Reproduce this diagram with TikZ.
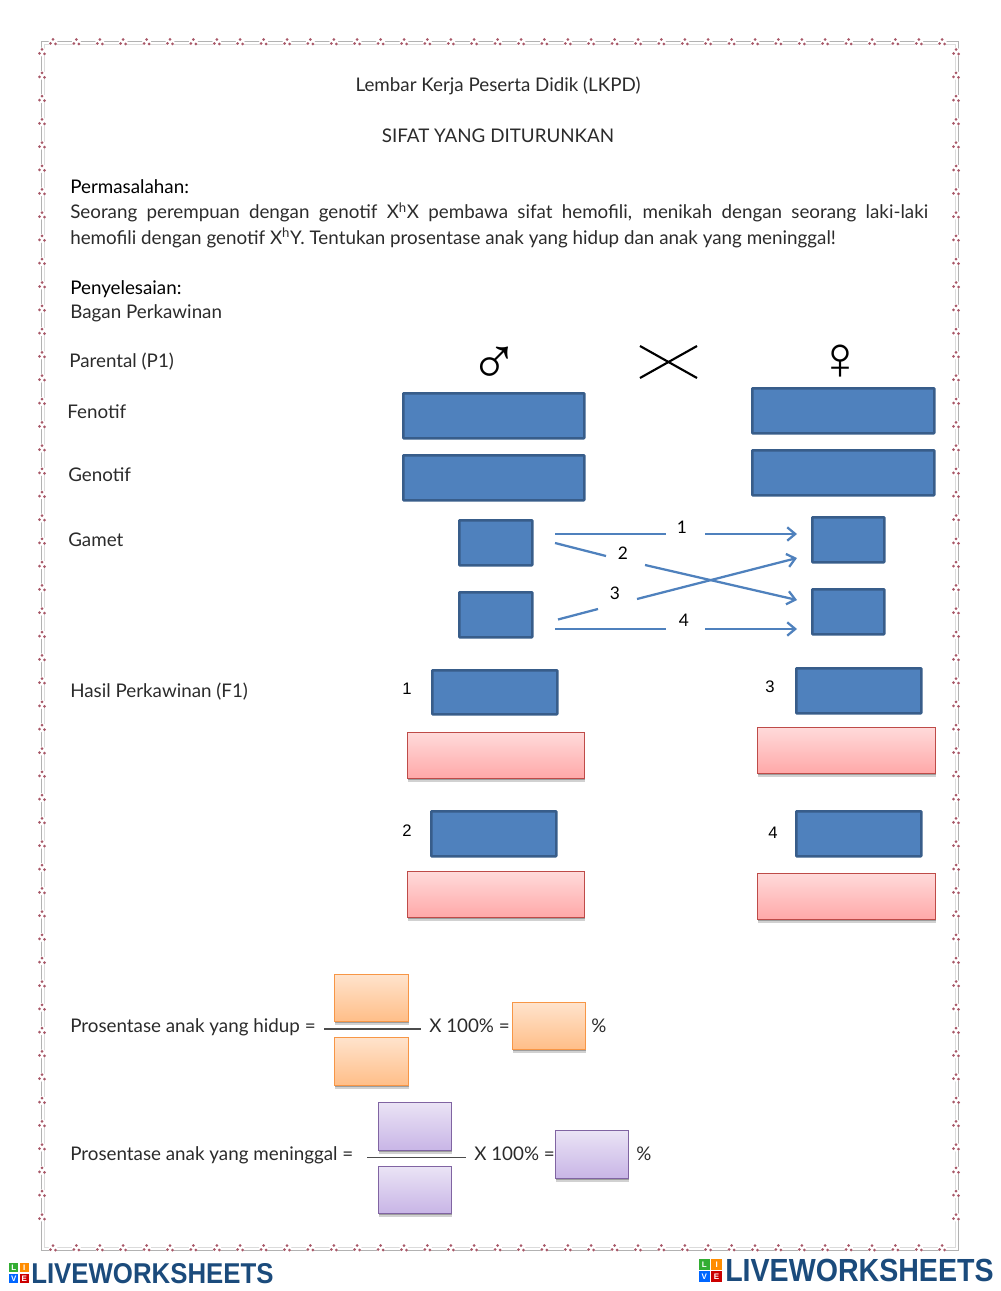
\documentclass[tikz,border=0pt]{standalone}
\usepackage{fontspec}
\usepackage{graphicx}
\setmainfont{Lato}
\newfontfamily\logofont{Liberation Sans}
\usetikzlibrary{arrows.meta,shadows}
\definecolor{boxblue}{HTML}{4F81BD}
\definecolor{boxedge}{HTML}{385D8A}
\definecolor{inktext}{HTML}{2B2B2B}
\definecolor{logoblue}{HTML}{1B4B7C}
\definecolor{pinkedge}{HTML}{BE4B48}
\definecolor{pinktop}{HTML}{FFDADA}
\definecolor{pinkbot}{HTML}{FFA8A8}
\definecolor{orangeedge}{HTML}{F79646}
\definecolor{orangetop}{HTML}{FFE3CC}
\definecolor{orangebot}{HTML}{FFBE88}
\definecolor{purpleedge}{HTML}{8064A2}
\definecolor{purpletop}{HTML}{EAE3F5}
\definecolor{purplebot}{HTML}{C8B5E6}
\definecolor{flowerred}{HTML}{A85868}
\tikzset{
  x=0.75pt,y=-0.75pt,
  txt/.style={anchor=base west,inner sep=0pt,text=inktext,font=\fontsize{14.1}{16}\selectfont},
  ctxt/.style={txt,anchor=base},
  num/.style={anchor=center,inner sep=0pt,text=black,font=\logofont\fontsize{12.5}{14}\selectfont},
  bluebox/.style={draw=boxedge,fill=boxblue,line width=1.9pt,inner sep=0pt,anchor=north west,rounded corners=0.5pt},
  softbox/.style={inner sep=0pt,anchor=north west,line width=0.9pt,
    drop shadow={shadow xshift=0pt,shadow yshift=-1.2pt,opacity=0.25,fill=black},
    drop shadow={shadow xshift=0pt,shadow yshift=-2.4pt,opacity=0.18,fill=black}},
  pinkbox/.style={softbox,draw=pinkedge,top color=pinktop,bottom color=pinkbot},
  orangebox/.style={softbox,draw=orangeedge,top color=orangetop,bottom color=orangebot},
  purplebox/.style={softbox,draw=purpleedge,top color=purpletop,bottom color=purplebot},
  flow/.style={draw=boxblue,line width=1.7pt},
  flowtip/.style={flow,-{Straight Barb[length=6pt,width=10pt,line width=1.7pt]}},
  crossline/.style={draw=black,line width=1.6pt},
  fracline/.style={draw=black!70,line width=0.8pt},
  logotxt/.style={anchor=base west,inner sep=0pt,text=logoblue},
  logoletter/.style={anchor=center,inner sep=0pt,text=white,font=\logofont\bfseries\fontsize{6}{6}\selectfont},
}
\newcommand{\flowerat}[2]{%
  \fill[white] (#1,#2) circle[radius=4.5];
  \fill[flowerred] (#1-2.5,#2+1.5) circle[radius=1.5] (#1+2.5,#2+2) circle[radius=1.5] (#1,#2-2.5) circle[radius=1.5];}
\newcommand{\logomark}[3]{% x y size
  \fill[green!60!black!80] (#1,#2) rectangle ++(#3*0.47,#3*0.47);
  \fill[orange!90!yellow] (#1+#3*0.53,#2) rectangle ++(#3*0.47,#3*0.47);
  \fill[blue!60!cyan] (#1,#2+#3*0.53) rectangle ++(#3*0.47,#3*0.47);
  \fill[red!80!black] (#1+#3*0.53,#2+#3*0.53) rectangle ++(#3*0.47,#3*0.47);}
\newcommand{\blockat}[6]{% name style x1 y1 x2 y2
  \node[#2,minimum width=\the\dimexpr(#5pt-#3pt-2pt)*3/4\relax,minimum height=\the\dimexpr(#6pt-#4pt-2pt)*3/4\relax] (#1) at (#3,#4) {};}
\newcommand{\softat}[6]{% name style x1 y1 x2 y2
  \node[#2,minimum width=\the\dimexpr(#5pt-#3pt)*3/4\relax,minimum height=\the\dimexpr(#6pt-#4pt)*3/4\relax] (#1) at (#3,#4) {};}
\begin{document}
\begin{tikzpicture}
\useasboundingbox (0,0) rectangle (1000,1291);
% border
\draw[black!30,line width=0.7pt] (41,41) rectangle (958,1250);
\draw[black!14,line width=0.5pt] (44,44) rectangle (955,1247);
\foreach \k in {0,...,38}{\flowerat{53+23.4*\k}{42}\flowerat{53+23.4*\k}{1248}}
\foreach \k in {0,...,50}{\flowerat{42}{52+23.3*\k}\flowerat{956}{52+23.3*\k}}
% text
\node[ctxt] (title) at (498,91.5) {Lembar Kerja Peserta Didik (LKPD)};
\node[ctxt] (subtitle) at (498,142.5) {SIFAT YANG DITURUNKAN};
\node[txt,text=black] (masalah) at (70,194) {Permasalahan:};
\node[txt] (line1) at (70,219) {\makebox[643.5pt][s]{Seorang perempuan dengan genotif X\textsuperscript{h}X pembawa sifat hemofili, menikah dengan seorang laki-laki}};
\node[txt] (line2) at (70,244) {hemofili dengan genotif X\textsuperscript{h}Y. Tentukan prosentase anak yang hidup dan anak yang meninggal!};
\node[txt,text=black] (selesai) at (70,294) {Penyelesaian:};
\node[txt] (bagan) at (70,318) {Bagan Perkawinan};
\node[txt] (parental) at (69,367) {Parental (P1)};
\node[txt] (fenotif) at (67,418) {Fenotif};
\node[txt] (genotif) at (68,481) {Genotif};
\node[txt] (gamet) at (68,546) {Gamet};
\node[txt] (hasil) at (70,697) {Hasil Perkawinan (F1)};
% symbols
\node[inner sep=0pt,font=\logofont\fontsize{50}{52}\selectfont] (male) at (494,366) {♂};
\node[inner sep=0pt,font=\logofont\bfseries\fontsize{46}{50}\selectfont] (female) at (840,362) {♀};
\coordinate (xa) at (640,346); \coordinate (xb) at (697,378);
\coordinate (xc) at (640,378); \coordinate (xd) at (697,346);
\draw[crossline] (xa) -- (xb);
\draw[crossline] (xc) -- (xd);
% blue boxes
\blockat{mf}{bluebox}{402}{392}{585}{439}
\blockat{mg}{bluebox}{402}{454}{585}{501}
\blockat{ff}{bluebox}{751}{387}{935}{434}
\blockat{fg}{bluebox}{751}{449}{935}{496}
\blockat{ga}{bluebox}{458}{519}{533}{566}
\blockat{gb}{bluebox}{458}{591}{533}{638}
\blockat{gc}{bluebox}{811}{516}{885}{563}
\blockat{gd}{bluebox}{811}{588}{885}{635}
\blockat{fa}{bluebox}{431}{669}{558}{715}
\blockat{fc}{bluebox}{795}{667}{922}{714}
\blockat{fb}{bluebox}{430}{810}{557}{857}
\blockat{fd}{bluebox}{795}{810}{922}{857}
% pink
\softat{pa}{pinkbox}{407}{732}{584}{778}
\softat{pc}{pinkbox}{757}{727}{935}{773}
\softat{pb}{pinkbox}{407}{871}{584}{917}
\softat{pd}{pinkbox}{757}{873}{935}{919}
% numbers
\node[num] (na) at (407,689) {1};
\node[num] (nc) at (770,687) {3};
\node[num] (nb) at (407,831) {2};
\node[num] (nd) at (773,833) {4};
% arrows
\node[num,font=\fontsize{13}{14}\selectfont] (l1) at (682,527) {1};
\node[num,font=\fontsize{13}{14}\selectfont] (l2) at (623,553) {2};
\node[num,font=\fontsize{13}{14}\selectfont] (l3) at (615,593) {3};
\node[num,font=\fontsize{13}{14}\selectfont] (l4) at (684,620) {4};
\coordinate (a1s) at (555,534); \coordinate (a1m) at (666,534); \coordinate (a1n) at (705,534); \coordinate (a1e) at (797,534);
\coordinate (a2s) at (555,543); \coordinate (a2m) at (606,556); \coordinate (a2n) at (645,565); \coordinate (a2e) at (797,600);
\coordinate (a3s) at (558,619.5); \coordinate (a3m) at (598,609); \coordinate (a3n) at (637,599); \coordinate (a3e) at (797,558);
\coordinate (a4s) at (555,629); \coordinate (a4m) at (666,629); \coordinate (a4n) at (705,629); \coordinate (a4e) at (797,629);
\draw[flow] (a1s) -- (a1m); \draw[flowtip] (a1n) -- (a1e);
\draw[flow] (a2s) -- (a2m); \draw[flowtip] (a2n) -- (a2e);
\draw[flow] (a3s) -- (a3m); \draw[flowtip] (a3n) -- (a3e);
\draw[flow] (a4s) -- (a4m); \draw[flowtip] (a4n) -- (a4e);
% percentage rows
\node[txt] (hidup) at (70,1032) {Prosentase anak yang hidup =};
\softat{oa}{orangebox}{334}{974}{408}{1021}
\softat{ob}{orangebox}{334}{1037}{408}{1085}
\softat{oc}{orangebox}{512}{1002}{585}{1049}
\coordinate (ol) at (324,1029); \coordinate (or) at (421,1029);
\draw[fracline] (ol) -- (or);
\node[txt] (hx) at (429,1032) {X 100\% =};
\node[txt] (hp) at (591,1032) {\%};
\node[txt] (mati) at (70,1160) {Prosentase anak yang meninggal =};
\softat{va}{purplebox}{378}{1102}{451}{1150}
\softat{vb}{purplebox}{378}{1166}{451}{1213}
\softat{vc}{purplebox}{555}{1130}{628}{1178}
\coordinate (vl) at (367,1157.5); \coordinate (vr) at (466,1157.5);
\draw[fracline] (vl) -- (vr);
\node[txt] (mx) at (474,1160) {X 100\% =};
\node[txt] (mp) at (636,1160) {\%};
% logos
\logomark{9}{1263}{20}
\node[logoletter] (la) at (13.7,1267.7) {L};
\node[logoletter] (lb) at (24.3,1267.7) {I};
\node[logoletter] (lc) at (13.7,1278.3) {V};
\node[logoletter] (ld) at (24.3,1278.3) {E};
\node[logotxt,font=\logofont\bfseries\fontsize{21.5}{24}\selectfont] (logol) at (31,1283) {\scalebox{0.9}[1]{LIVEWORKSHEETS}};
\logomark{699}{1259}{23}
\node[logoletter] (ra) at (704.4,1264.4) {L};
\node[logoletter] (rb) at (716.6,1264.4) {I};
\node[logoletter] (rc) at (704.4,1276.6) {V};
\node[logoletter] (rd) at (716.6,1276.6) {E};
\node[logotxt,font=\logofont\bfseries\fontsize{24}{26}\selectfont] (logor) at (725,1281.5) {\scalebox{0.893}[1]{LIVEWORKSHEETS}};
\end{tikzpicture}
\end{document}
